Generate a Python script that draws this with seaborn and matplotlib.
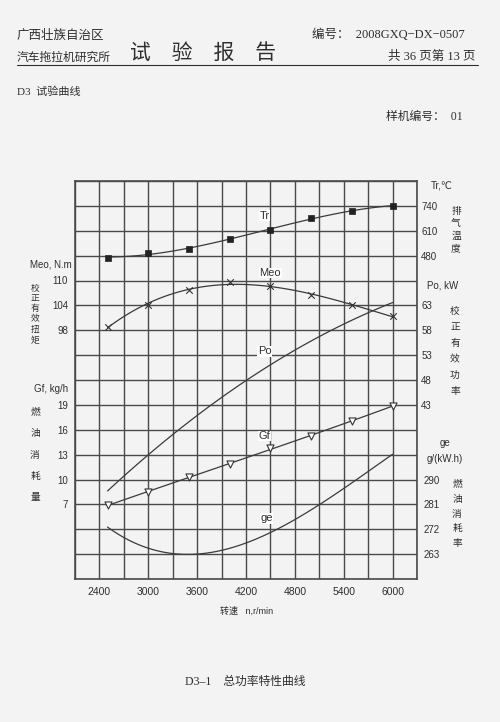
import numpy as np
import pandas as pd
import matplotlib
matplotlib.use("Agg")
import matplotlib.pyplot as plt
import seaborn as sns
from matplotlib.lines import Line2D

# ---------------- data ----------------
speed = [2500, 3000, 3500, 4000, 4500, 5000, 5500, 6000]      # n, r/min
tr = [470, 493, 516, 566, 615, 676, 715, 740]                  # Tr, deg C
meo = [98.8, 104.2, 107.6, 109.6, 108.7, 106.5, 104.0, 101.4]  # Meo, N.m
po = [25.9, 32.7, 39.4, 45.9, 51.2, 55.8, 59.9, 63.6]          # Po, kW
gf = [6.9, 8.5, 10.25, 11.9, 13.8, 15.25, 17.0, 18.9]          # Gf, kg/h
ge = [272.6, 265.6, 263.0, 264.0, 271.6, 279.4, 288.2, 299.3]  # ge, g/(kW.h)

x_ticks = [2400, 3000, 3600, 4200, 4800, 5400, 6000]
tr_ticks = [480, 610, 740]
meo_ticks = [98, 104, 110]
po_ticks = [43, 48, 53, 58, 63]
gf_ticks = [7, 10, 13, 16, 19]
ge_ticks = [263, 272, 281, 290]

df = pd.DataFrame({"n": speed, "Tr": tr, "Meo": meo, "Po": po, "Gf": gf, "ge": ge})

# ---------------- style ----------------
sns.set_style("white")
plt.rcParams["font.family"] = ["Liberation Sans", "Noto Sans CJK SC", "DejaVu Sans"]
SERIF = ["Liberation Serif", "Noto Sans CJK SC", "DejaVu Sans"]
CJK = ["Noto Sans CJK SC", "DejaVu Sans"]

BG = "#f3f3f3"
INK = "#2e2e2e"
GRID = "#4a4a4a"
LINE = "#3a3a3a"

W, H = 500, 722
fig = plt.figure(figsize=(W / 100, H / 100), dpi=100, facecolor=BG)


def fx(x):
    return x / W


def fy(y):
    return 1 - y / H


# plot box in pixels
L, R, T, B = 75, 417, 181, 579
ax = fig.add_axes([fx(L), fy(B), fx(R) - fx(L), fy(T) - fy(B)])
ax.set_facecolor("none")
ax.set_xlim(2100, 6300)
ax.set_ylim(0, 16)
ax.set_xticks(np.arange(2100, 6301, 300))
ax.set_xticklabels([str(v) if v in x_ticks else "" for v in np.arange(2100, 6301, 300)])
ax.set_yticks(np.arange(0, 17, 1))
ax.set_yticklabels([])
ax.grid(True, color=GRID, lw=1.0)
ax.tick_params(axis="both", length=0)
ax.tick_params(axis="x", labelsize=7.5, pad=6, colors=INK)
for s in ax.spines.values():
    s.set_color(GRID)
    s.set_linewidth(1.2)
ax.set_xlabel("")
ax.set_ylabel("")


def twin(lo, hi, ticks, side, pad):
    t = ax.twinx()
    t.set_ylim(lo, hi)
    t.set_yticks(ticks)
    t.set_yticklabels([str(v) for v in ticks])
    for s in t.spines.values():
        s.set_visible(False)
    if side == "left":
        t.yaxis.set_ticks_position("left")
        t.tick_params(axis="y", length=0, labelleft=True, labelright=False,
                      labelsize=7, pad=pad, colors=INK)
    else:
        t.tick_params(axis="y", length=0, labelleft=False, labelright=True,
                      labelsize=7, pad=pad, colors=INK)
    t.set_ylabel("")
    return t


# row k (0..16) -> value mappings, chosen so labelled values fall on grid rows
ax_meo = twin(38, 134, meo_ticks, "left", 5)
ax_gf = twin(-2, 46, gf_ticks, "left", 5)
ax_tr = twin(-1210, 870, tr_ticks, "right", 3)
ax_po = twin(8, 88, po_ticks, "right", 3)
ax_ge = twin(254, 398, ge_ticks, "right", 5)

lkw = dict(color=LINE, lw=0.9)

sns.regplot(data=df, x="n", y="Tr", order=3, ci=None, scatter=False, ax=ax_tr, line_kws=lkw)
sns.scatterplot(data=df, x="n", y="Tr", ax=ax_tr, marker="s", s=14, color="#222222",
                edgecolor="#222222", linewidth=0.5, zorder=5)

sns.regplot(data=df, x="n", y="Meo", order=3, ci=None, scatter=False, ax=ax_meo, line_kws=lkw)
sns.scatterplot(data=df, x="n", y="Meo", ax=ax_meo, marker="x", s=22, color="#333333",
                linewidth=0.8, zorder=5)

sns.regplot(data=df, x="n", y="Po", order=2, ci=None, scatter=False, ax=ax_po, line_kws=lkw)

sns.regplot(data=df, x="n", y="Gf", order=3, ci=None, scatter=False, ax=ax_gf, line_kws=lkw)
sns.scatterplot(data=df, x="n", y="Gf", ax=ax_gf, marker="v", s=26, facecolor="white",
                edgecolor="#333333", linewidth=0.8, zorder=5)

sns.regplot(data=df, x="n", y="ge", order=3, ci=None, scatter=False, ax=ax_ge, line_kws=lkw)

for t in (ax_meo, ax_gf, ax_tr, ax_po, ax_ge):
    t.set_xlim(2100, 6300)
    t.set_xlabel("")
    t.set_ylabel("")

# in-plot curve labels (x in r/min, y in grid rows)
for txt, xv, yv in [("Tr", 4430, 14.6), ("Meo", 4500, 12.3), ("Po", 4430, 9.15),
                    ("Gf", 4430, 5.75), ("ge", 4450, 2.45)]:
    ax.text(xv, yv, txt, fontsize=8, color=INK, ha="center", va="center",
            bbox=dict(facecolor="white", edgecolor="none", pad=0.3))

# ---------------- axis captions ----------------
def ftxt(x, y, s, size, ha="left", family=None, **kw):
    fig.text(fx(x), fy(y), s, fontsize=size, ha=ha, va="center", color=INK,
             family=family if family else plt.rcParams["font.family"], **kw)


def vtext(chars, x, y0, y1, size):
    n = len(chars)
    for i, c in enumerate(chars):
        y = y0 + (y1 - y0) * i / (n - 1)
        ftxt(x, y, c, size, ha="center", family=CJK)


ftxt(72, 265, "Meo, N.m", 7, ha="right")
ftxt(68, 389, "Gf, kg/h", 7, ha="right")
vtext("校正有效扭矩", 35, 288, 340, 6.3)
vtext("燃油消耗量", 35, 412, 497, 7)

ftxt(442, 185, "Tr,℃", 7, ha="center", family=["Liberation Sans", "DejaVu Sans"])
ftxt(443, 285, "Po, kW", 7, ha="center")
ftxt(445, 443, "ge", 7, ha="center")
ftxt(445, 459, "g/(kW.h)", 7, ha="center")
vtext("排气温度", 456, 211, 248, 7)
vtext("校正有效功率", 455, 311, 391, 7)
vtext("燃油消耗率", 457, 484, 543, 7)

ftxt(220, 611, "转速   n,r/min", 6.5, ha="left")

# ---------------- page header / footer ----------------
ftxt(17, 35, "广西壮族自治区", 9, family=CJK)
ftxt(17, 57, "汽车拖拉机研究所", 8.5, family=CJK)
ftxt(203, 53, "试　验　报　告", 15, ha="center", family=CJK)
ftxt(312, 35, "编号：  2008GXQ−DX−0507", 9, family=SERIF)
ftxt(475, 57, "共 36 页第 13 页", 9, ha="right", family=SERIF)
fig.add_artist(Line2D([fx(17), fx(478)], [fy(65), fy(65)], color=INK, lw=0.8))
ftxt(17, 92, "D3  试验曲线", 8, family=SERIF)
ftxt(463, 117, "样机编号：  01", 8.5, ha="right", family=SERIF)
ftxt(185, 682, "D3–1    总功率特性曲线", 8.5, family=SERIF)

fig.savefig("out.png", dpi=100, facecolor=BG)
